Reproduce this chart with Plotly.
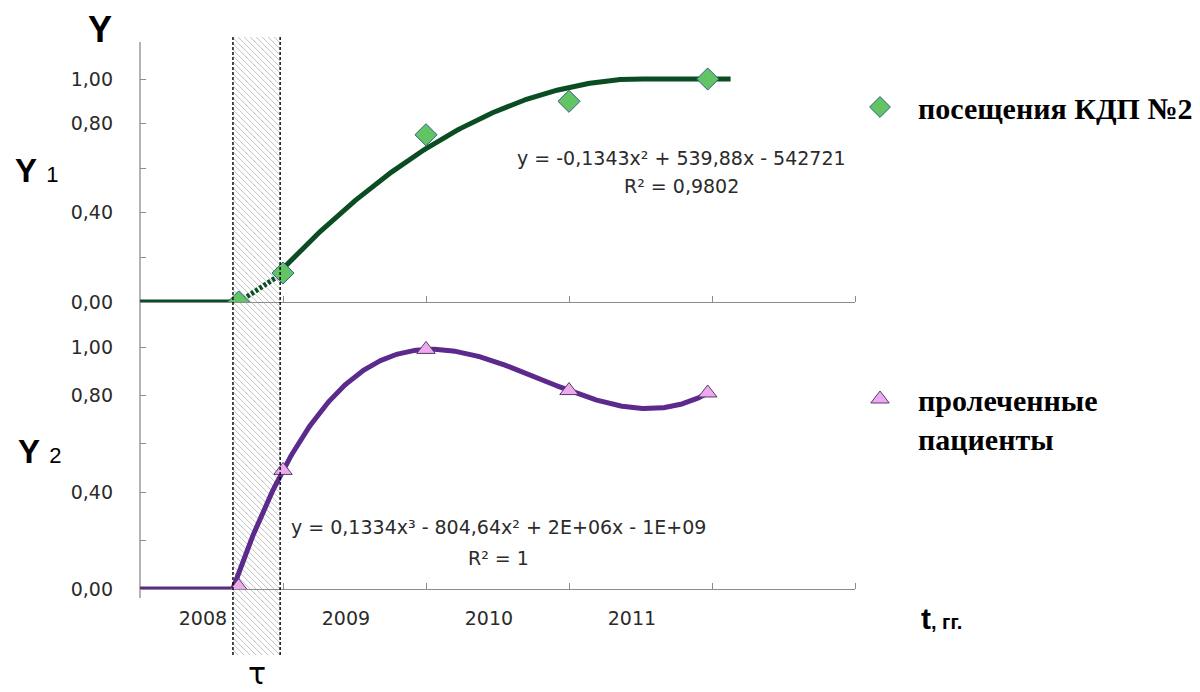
import numpy as np
import plotly.graph_objects as go

# ---- data -------------------------------------------------------------
years = ["2008", "2009", "2010", "2011"]
year_edges = [2009, 2010, 2011, 2012, 2013]
label_offset = 0.44
t_obs = [2008.69, 2009.0, 2010.0, 2011.0, 2011.97]
visits = [0.00, 0.13, 0.75, 0.90, 1.00]        # посещения КДП №2
treated = [0.01, 0.49, 0.99, 0.82, 0.81]       # пролеченные пациенты
tau_span = [2008.65, 2008.98]
y_ticks = [0.0, 0.2, 0.4, 0.6, 0.8, 1.0]
y_ticktext = ["0,00", "", "0,40", "", "0,80", "1,00"]
eq_visits = "y = -0,1343x² + 539,88x - 542721"
r2_visits = "R² = 0,9802"
eq_treated = "y = 0,1334x³ - 804,64x² + 2E+06x - 1E+09"
r2_treated = "R² = 1"

# ---- page geometry (pixels) ------------------------------------------
W, H = 1200, 692
L, R, T, B = 140, 855, 42, 598
PW, PH = R - L, B - T


def px_x(p):
    return (p - L) / PW


def px_y(p):
    return (B - p) / PH


TOP_ZERO, TOP_ONE = 302, 79
BOT_ZERO, BOT_ONE, BOT_TOP = 589, 347, 330
X0, X1 = 2008, 2013

GREEN = "#0b4d22"
PURPLE = "#5b2a8c"
TXT = "#2b2b2b"
AXC = "#8c8c8c"
TICKFONT = dict(family="DejaVu Sans", size=19, color=TXT)
LEGFONT = dict(family="Liberation Serif", size=30, color="black")

# ---- trend lines -----------------------------------------------------
fit_v = np.polynomial.Polynomial.fit(t_obs[1:], visits[1:], 2)
tv = np.linspace(t_obs[1], 2012.13, 300)
yv = np.minimum(np.maximum.accumulate(fit_v(tv)), 1.0)

fit_t = np.polynomial.Polynomial.fit(t_obs[1:], treated[1:], 3)
tt = np.linspace(X0, t_obs[-1], 400)
yt = np.maximum(fit_t(tt), 0.0)

fig = go.Figure()

# top panel: visits
fig.add_trace(go.Scatter(x=[X0, t_obs[0]], y=[visits[0], visits[0]], mode="lines",
                         line=dict(color=GREEN, width=5), xaxis="x2", yaxis="y2",
                         showlegend=False, hoverinfo="skip"))
fig.add_trace(go.Scatter(x=t_obs[:2], y=visits[:2], mode="lines",
                         line=dict(color=GREEN, width=5, dash="3px,2px"),
                         xaxis="x2", yaxis="y2", showlegend=False, hoverinfo="skip"))
fig.add_trace(go.Scatter(x=tv, y=yv, mode="lines", line=dict(color=GREEN, width=5),
                         xaxis="x2", yaxis="y2", showlegend=False, hoverinfo="skip"))
fig.add_trace(go.Scatter(x=t_obs, y=visits, mode="markers", name="<b>посещения КДП №2</b>",
                         marker=dict(symbol="diamond", size=17, color="#62c462",
                                     line=dict(color="#2f5f8f", width=1)),
                         xaxis="x2", yaxis="y2", legend="legend"))

# bottom panel: treated patients
fig.add_trace(go.Scatter(x=tt, y=yt, mode="lines", line=dict(color=PURPLE, width=5),
                         xaxis="x", yaxis="y", showlegend=False, hoverinfo="skip"))
fig.add_trace(go.Scatter(x=t_obs, y=treated, mode="markers",
                         name="<b>пролеченные<br>пациенты</b>",
                         marker=dict(symbol="triangle-up", size=16, color="#eeaaee",
                                     line=dict(color="#5a3a6a", width=1)),
                         xaxis="x", yaxis="y", legend="legend2"))

# ---- hatched τ band -------------------------------------------------
band_top, band_bot = 37, 655
bx0 = L + (tau_span[0] - X0) / (X1 - X0) * PW
bx1 = L + (tau_span[1] - X0) / (X1 - X0) * PW
shapes = []
step = 6
c = band_top - bx1
while c < band_bot - bx0:
    xs = max(bx0, band_top - c)
    xe = min(bx1, band_bot - c)
    if xs < xe:
        shapes.append(dict(type="line", xref="paper", yref="paper",
                           x0=px_x(xs), y0=px_y(xs + c), x1=px_x(xe), y1=px_y(xe + c),
                           line=dict(color="#c2c2c2", width=1), layer="below"))
    c += step
for bx in (bx0, bx1):
    shapes.append(dict(type="line", xref="paper", yref="paper",
                       x0=px_x(bx), x1=px_x(bx), y0=px_y(band_top), y1=px_y(band_bot),
                       line=dict(color="black", width=1.4, dash="3px,2px"), layer="above"))
# common vertical axis line
shapes.append(dict(type="line", xref="paper", yref="paper", x0=0, x1=0, y0=0, y1=1,
                   line=dict(color=AXC, width=1.3), layer="below"))

# ---- text -------------------------------------------------------------
ann = []


def add_text(px, py, text, size, family="DejaVu Sans", xanchor="center", color=TXT):
    ann.append(dict(xref="paper", yref="paper", x=px_x(px), y=px_y(py), text=text,
                    showarrow=False, xanchor=xanchor, yanchor="middle",
                    font=dict(family=family, size=size, color=color)))


add_text(100, 30, "<b>Y</b>", 36, "Liberation Sans", color="black")
add_text(36, 170, "<b>Y</b> <span style='font-size:22px;font-weight:normal'>1</span>", 33,
         "Liberation Sans", color="black")
add_text(40, 451, "<b>Y</b> <span style='font-size:22px;font-weight:normal'>2</span>", 33,
         "Liberation Sans", color="black")
add_text(941, 618, "<b>t<span style='font-size:20px'>, гг.</span></b>", 30,
         "Liberation Sans", color="black")
add_text(257, 673, "τ", 30, "DejaVu Sans", color="black")
add_text(681, 158, eq_visits, 19)
add_text(681, 186, r2_visits, 19)
add_text(498, 527, eq_treated, 19)
add_text(498, 558, r2_treated, 19)

xaxis_common = dict(range=[X0, X1], showline=True, linecolor=AXC, linewidth=1.3,
                    showgrid=False, zeroline=False, tickmode="array",
                    tickvals=[2008 + i + label_offset for i in range(len(years))],
                    ticktext=years, ticks="", tickfont=TICKFONT,
                    minor=dict(tickmode="array", tickvals=year_edges, ticks="inside",
                               ticklen=6, tickcolor=AXC, tickwidth=1.3, showgrid=False))

yaxis_common = dict(showline=False, showgrid=False, zeroline=False, tickmode="array",
                    tickvals=y_ticks, ticktext=y_ticktext, ticks="inside", ticklen=6,
                    tickcolor=AXC, tickwidth=1.3, tickfont=TICKFONT, ticklabelstandoff=26)

fig.update_layout(
    width=W, height=H, autosize=False,
    margin=dict(l=L, r=W - R, t=T, b=H - B, pad=0, autoexpand=False),
    paper_bgcolor="white", plot_bgcolor="rgba(0,0,0,0)",
    xaxis=dict(**xaxis_common, anchor="y", ticklabelstandoff=12),
    xaxis2=dict(**xaxis_common, anchor="y2", matches="x", showticklabels=False),
    yaxis=dict(**yaxis_common, anchor="x",
               domain=[px_y(BOT_ZERO), px_y(BOT_TOP)],
               range=[0, (BOT_ZERO - BOT_TOP) / (BOT_ZERO - BOT_ONE)]),
    yaxis2=dict(**yaxis_common, anchor="x2",
                domain=[px_y(TOP_ZERO), 1.0],
                range=[0, (TOP_ZERO - T) / (TOP_ZERO - TOP_ONE)]),
    legend=dict(x=px_x(842), y=px_y(107), xanchor="left", yanchor="middle",
                font=LEGFONT, bgcolor="rgba(0,0,0,0)", borderwidth=0, itemwidth=66),
    legend2=dict(x=px_x(842), y=px_y(373), xanchor="left", yanchor="top",
                 font=LEGFONT, bgcolor="rgba(0,0,0,0)", borderwidth=0, itemwidth=66,
                 valign="top"),
    shapes=shapes,
    annotations=ann,
)

fig.write_html("out.html")
